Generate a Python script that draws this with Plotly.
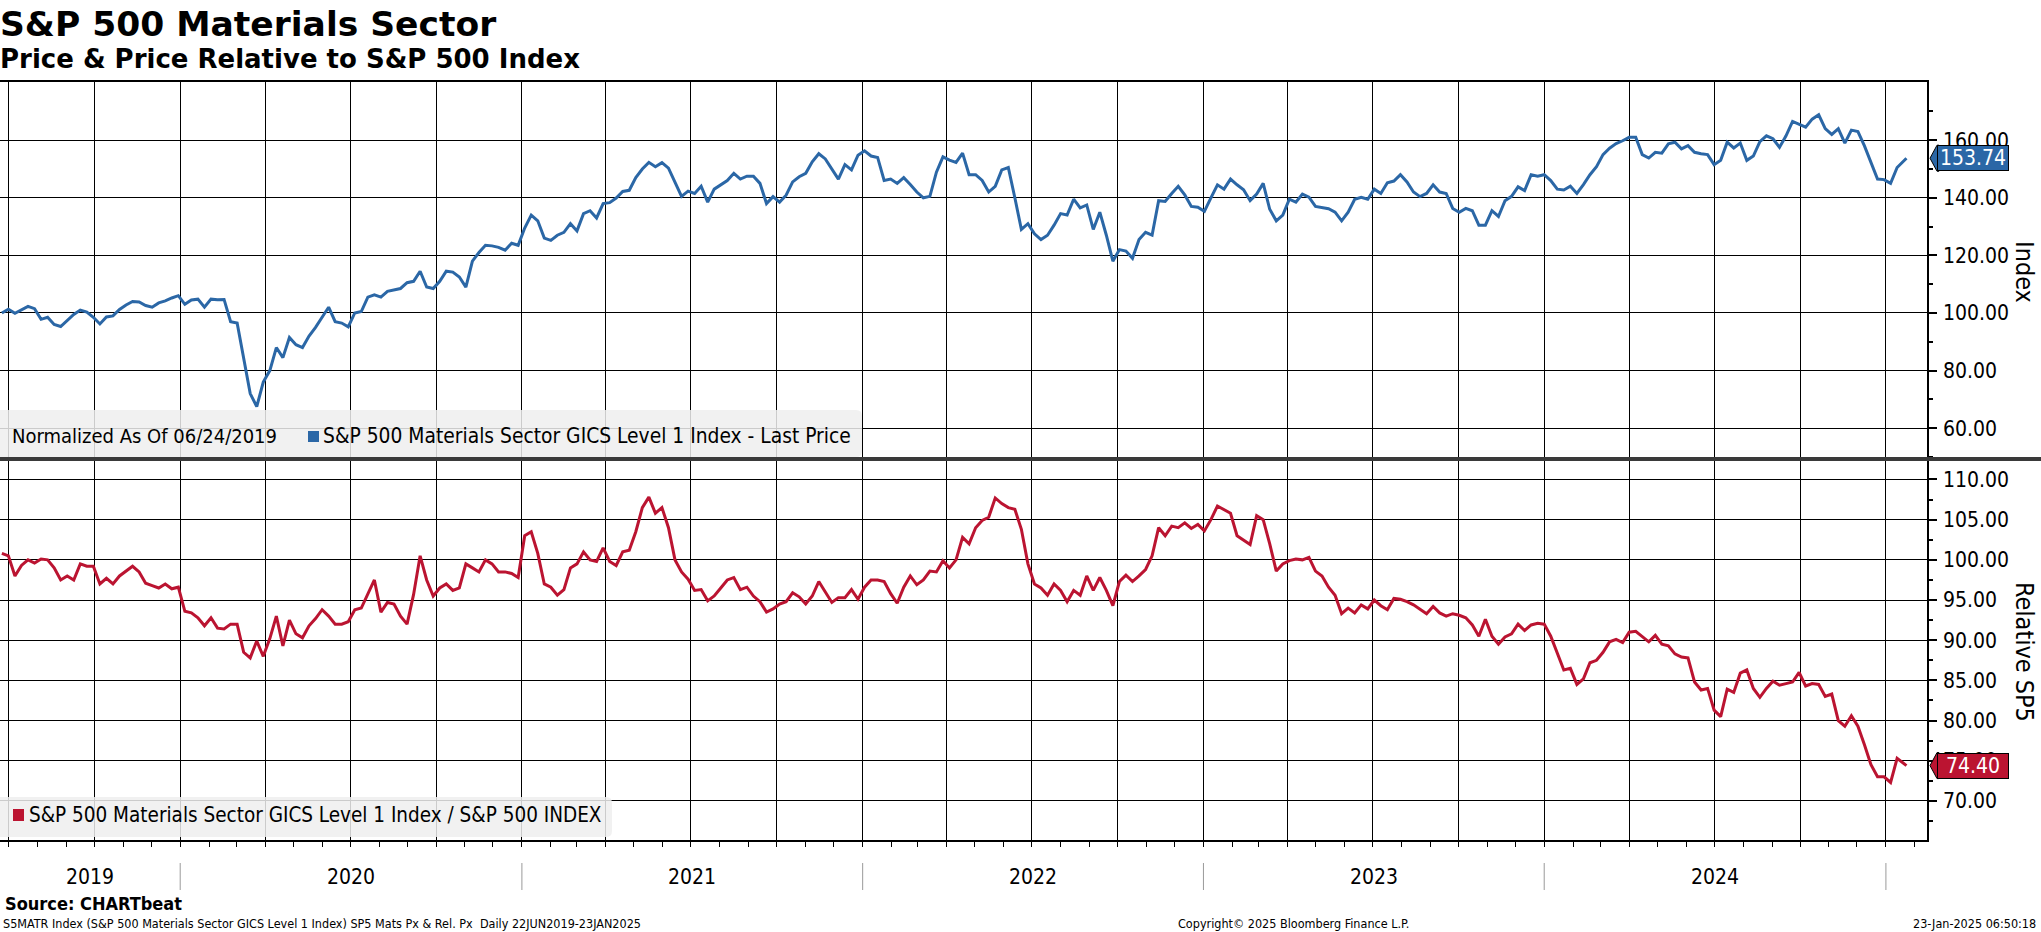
import pandas as pd
import plotly.graph_objects as go

# ---------------- data ----------------
start_date = "2019-06-24"   # weekly readings from this date
last_date = "2025-01-23"    # final reading

price = [
    100.0, 101.3, 99.9, 101.0, 102.3, 101.5, 97.8, 98.5, 96.0, 95.3,
    97.5, 99.5, 101.0, 100.3, 98.5, 96.2, 98.6, 99.0, 101.2, 102.8,
    104.0, 103.8, 102.6, 102.0, 103.5, 104.2, 105.2, 106.0, 103.0, 104.5,
    104.8, 102.0, 104.8, 104.6, 104.7, 97.0, 96.5, 84.0, 72.0, 67.5,
    76.0, 80.0, 88.0, 84.5, 91.5, 89.0, 88.0, 92.0, 95.0, 98.5,
    102.0, 97.0, 96.5, 95.2, 100.0, 100.5, 105.5, 106.3, 105.5, 107.5,
    108.0, 108.5, 110.5, 111.0, 114.5, 109.0, 108.5, 111.0, 114.5, 114.2,
    112.5, 109.0, 118.0, 121.0, 123.5, 123.3, 122.8, 121.8, 124.2, 123.5,
    129.5, 134.0, 132.0, 126.0, 125.2, 127.0, 128.0, 131.0, 128.5, 134.5,
    135.5, 133.0, 138.0, 138.3, 139.9, 142.2, 142.6, 147.0, 150.0, 152.3,
    150.8, 152.2, 150.3, 145.3, 140.5, 142.3, 141.5, 144.0, 138.5, 143.0,
    144.5, 146.0, 148.5, 146.5, 147.5, 147.5, 145.0, 138.0, 140.4, 138.5,
    140.9, 145.5, 147.3, 148.5, 152.5, 155.3, 153.5, 150.0, 146.5, 151.5,
    149.7, 154.8, 156.3, 154.5, 154.0, 146.0, 146.5, 145.0, 147.0, 144.6,
    142.0, 140.0, 140.5, 148.9, 154.2, 153.1, 152.3, 155.5, 148.0, 148.0,
    146.0, 142.0, 144.0, 149.7, 150.5, 140.0, 129.0, 131.0, 127.5, 125.5,
    127.0, 130.5, 134.5, 134.0, 139.5, 136.5, 137.5, 129.0, 135.0, 127.0,
    118.0, 122.0, 121.5, 119.0, 125.5, 128.0, 127.0, 139.0, 138.7, 141.5,
    144.0, 141.0, 137.0, 136.7, 135.3, 140.0, 144.5, 143.0, 146.5, 144.5,
    142.8, 139.0, 141.3, 145.0, 136.0, 132.0, 134.0, 139.5, 138.5, 141.3,
    140.2, 137.0, 136.5, 136.2, 135.0, 132.0, 135.0, 139.5, 140.2, 139.5,
    143.0, 141.5, 145.2, 145.8, 148.0, 145.5, 142.0, 140.4, 141.5, 144.5,
    142.0, 141.5, 136.3, 135.0, 136.3, 135.5, 130.5, 130.5, 135.5, 133.5,
    139.0, 140.5, 143.8, 142.5, 148.0, 147.5, 148.0, 146.0, 143.0, 142.7,
    144.0, 141.5, 144.6, 148.0, 150.8, 155.0, 157.2, 158.8, 159.8, 161.0,
    161.0, 155.0, 153.8, 155.8, 155.5, 158.7, 159.3, 157.0, 158.1, 155.8,
    155.3, 155.0, 151.5, 153.0, 159.3, 157.3, 159.0, 153.0, 154.5, 159.5,
    161.5, 160.5, 157.5, 161.5, 166.5, 165.5, 164.5, 167.3, 168.8, 164.0,
    162.0, 164.0, 159.0, 163.5, 163.0, 158.0, 152.5, 146.5, 146.3, 145.0,
    150.5, 153.74,
]

relative = [
    100.8, 100.5, 98.0, 99.3, 100.0, 99.6, 100.1, 100.0, 99.0, 97.5,
    98.0, 97.5, 99.5, 99.2, 99.2, 97.0, 97.7, 97.0, 98.0, 98.6,
    99.2, 98.5, 97.1, 96.8, 96.5, 97.0, 96.4, 96.6, 93.6, 93.4,
    92.8, 91.8, 92.8, 91.5, 91.4, 92.0, 92.0, 88.5, 87.8, 89.9,
    88.0, 90.2, 93.0, 89.3, 92.5, 90.8, 90.3, 91.8, 92.7, 93.8,
    93.0, 92.0, 92.0, 92.3, 93.8, 94.0, 95.7, 97.5, 93.5, 94.7,
    94.5, 93.0, 92.0, 95.7, 100.5, 97.5, 95.5, 96.5, 97.0, 96.2,
    96.5, 99.5, 99.0, 98.5, 100.0, 99.5, 98.5, 98.5, 98.3, 97.8,
    103.0, 103.5, 100.8, 97.0, 96.6, 95.6, 96.3, 99.0, 99.5, 101.0,
    100.0, 99.8, 101.5, 99.8, 99.3, 101.0, 101.2, 103.5, 106.5, 107.8,
    105.8, 106.5, 104.0, 100.0, 98.5, 97.6, 96.2, 96.3, 94.9, 95.5,
    96.5, 97.5, 97.8, 96.3, 96.6, 95.5, 94.8, 93.5, 93.9, 94.5,
    94.8, 95.9, 95.4, 94.5, 95.5, 97.3, 96.0, 94.7, 95.3, 95.3,
    96.3, 95.1, 96.6, 97.5, 97.5, 97.3, 95.8, 94.6, 96.6, 98.0,
    96.9, 97.5, 98.6, 98.5, 99.9, 99.0, 100.0, 102.8, 102.0, 104.0,
    104.9, 105.3, 107.7, 107.0, 106.5, 106.3, 103.8, 99.5, 97.0, 96.5,
    95.6, 97.0, 96.2, 94.8, 96.2, 95.6, 98.0, 96.2, 97.8, 96.2,
    94.3, 97.3, 98.1, 97.3, 98.0, 98.8, 100.5, 104.0, 103.0, 104.2,
    104.0, 104.6, 103.9, 104.4, 103.6, 105.0, 106.7, 106.3, 105.8, 103.0,
    102.4, 101.9, 105.5, 105.0, 102.0, 98.6, 99.5, 99.9, 100.1, 100.0,
    100.3, 98.6, 98.0, 96.6, 95.6, 93.3, 94.0, 93.4, 94.4, 93.9,
    95.0, 94.3, 93.8, 95.2, 95.1, 94.8, 94.4, 93.8, 93.3, 94.2,
    93.4, 93.0, 93.3, 93.1, 92.8, 91.9, 90.5, 92.6, 90.5, 89.5,
    90.4, 90.8, 92.0, 91.2, 91.9, 92.1, 92.0, 90.5, 88.3, 86.3,
    86.5, 84.5, 85.2, 87.2, 87.5, 88.5, 89.8, 90.1, 89.7, 91.0,
    91.1, 90.5, 89.8, 90.6, 89.5, 89.3, 88.3, 87.9, 87.8, 84.8,
    83.8, 84.0, 81.3, 80.5, 83.9, 83.5, 85.9, 86.3, 84.0, 82.9,
    84.0, 84.9, 84.4, 84.6, 84.8, 86.0, 84.3, 84.6, 84.5, 83.0,
    83.3, 80.0, 79.3, 80.6, 79.3, 77.0, 74.5, 73.0, 73.0, 72.3,
    75.3, 74.40,
]

price_ticks = [60, 80, 100, 120, 140, 160]
price_minor = [50, 70, 90, 110, 130, 150, 170]
rel_ticks = [70, 75, 80, 85, 90, 95, 100, 105, 110]
rel_minor = [67.5, 72.5, 77.5, 82.5, 87.5, 92.5, 97.5, 102.5, 107.5, 112.5]
year_labels = ["2019", "2020", "2021", "2022", "2023", "2024"]
year_bounds = ["2020-01-01", "2021-01-01", "2022-01-01", "2023-01-01",
               "2024-01-01", "2025-01-01"]

x_range = ["2019-06-22", "2025-02-14"]
price_range = [49.3, 180.2]
rel_range = [65.14, 112.55]

dates = list(pd.date_range(start_date, periods=len(price) - 1, freq="7D")) + [pd.Timestamp(last_date)]

# ---------------- styling ----------------
W, H = 2041, 932
PL, PR, PT, PB = 0, 1927, 82, 840       # plot area in px
PW, PH = PR - PL, PB - PT
SPLIT = 459                               # panel separator px

BLUE = "#2b67a6"
RED = "#bb1431"
FONT = "DejaVu Sans Condensed, Liberation Sans Narrow, DejaVu Sans, sans-serif"
TFONT = "DejaVu Sans, sans-serif"


def px(xp):
    return (xp - PL) / PW


def py(yp):
    return (PB - yp) / PH


def rounded_rect(x0p, x1p, y0p, y1p, r=6):
    """Rounded rectangle path in paper coords from pixel edges."""
    X0, X1 = px(x0p), px(x1p)
    Yt, Yb = py(y0p), py(y1p)
    rx, ry = r / PW, r / PH
    return (f"M {X0 + rx} {Yt} L {X1 - rx} {Yt} Q {X1} {Yt} {X1} {Yt - ry} "
            f"L {X1} {Yb + ry} Q {X1} {Yb} {X1 - rx} {Yb} "
            f"L {X0 + rx} {Yb} Q {X0} {Yb} {X0} {Yb + ry} "
            f"L {X0} {Yt - ry} Q {X0} {Yt} {X0 + rx} {Yt} Z")


split_paper = py(SPLIT)

fig = go.Figure()
fig.add_trace(go.Scatter(x=dates, y=price, mode="lines", xaxis="x2", yaxis="y2",
                         line=dict(color=BLUE, width=3), showlegend=False,
                         name="S&P 500 Materials Sector GICS Level 1 Index - Last Price"))
fig.add_trace(go.Scatter(x=dates, y=relative, mode="lines", xaxis="x", yaxis="y",
                         line=dict(color=RED, width=3), showlegend=False,
                         name="S&P 500 Materials Sector GICS Level 1 Index / S&P 500 INDEX"))

xcommon = dict(type="date", range=x_range, tickmode="linear", tick0="2019-07-01",
               dtick="M3", showgrid=True, gridcolor="black", gridwidth=1,
               zeroline=False, showticklabels=False, linecolor="black", linewidth=1.5)

ycommon = dict(side="right", showgrid=True, gridcolor="black", gridwidth=1,
               zeroline=False, showline=True, linecolor="black", linewidth=1.5,
               ticks="outside", ticklen=8, tickwidth=2, tickcolor="black",
               ticklabelstandoff=2,
               tickfont=dict(family=FONT, size=21, color="black"))

fig.update_layout(
    width=W, height=H,
    margin=dict(l=PL, r=W - PR, t=PT, b=H - PB),
    paper_bgcolor="white", plot_bgcolor="white",
    showlegend=False,
    xaxis=dict(**xcommon, anchor="y", showline=True, ticks="outside", ticklen=5,
               tickcolor="black",
               minor=dict(dtick="M1", tick0="2019-07-01", ticks="outside", ticklen=5,
                          tickcolor="black", showgrid=False)),
    xaxis2=dict(**xcommon, anchor="y2", matches="x", side="top", showline=True, ticks=""),
    yaxis=dict(**ycommon, domain=[0, split_paper], range=rel_range,
               tickmode="array", tickvals=rel_ticks,
               ticktext=[f"{v:.2f}" for v in rel_ticks],
               minor=dict(tickmode="array", tickvals=rel_minor, ticks="outside",
                          ticklen=4, tickcolor="black", showgrid=False)),
    yaxis2=dict(**ycommon, domain=[split_paper, 1], range=price_range,
                tickmode="array", tickvals=price_ticks,
                ticktext=[f"{v:.2f}" for v in price_ticks],
                minor=dict(tickmode="array", tickvals=price_minor, ticks="outside",
                           ticklen=4, tickcolor="black", showgrid=False)),
)

LEG_FILL = "rgba(238,238,238,0.85)"
shapes = []
# legend boxes (rounded)
shapes.append(dict(type="path", xref="paper", yref="paper",
                   path=rounded_rect(-8, 862, 410, 457), fillcolor=LEG_FILL,
                   line=dict(width=0), layer="above"))
shapes.append(dict(type="path", xref="paper", yref="paper",
                   path=rounded_rect(-8, 612, 797, 837), fillcolor=LEG_FILL,
                   line=dict(width=0), layer="above"))
# legend colour squares
shapes.append(dict(type="rect", xref="paper", yref="paper", x0=px(308), x1=px(319),
                   y0=py(442), y1=py(431), fillcolor=BLUE, line=dict(width=0), layer="above"))
shapes.append(dict(type="rect", xref="paper", yref="paper", x0=px(13), x1=px(24),
                   y0=py(821), y1=py(809), fillcolor=RED, line=dict(width=0), layer="above"))
# panel separator
shapes.append(dict(type="line", xref="paper", yref="paper", x0=0, x1=px(W),
                   y0=split_paper, y1=split_paper, line=dict(color="#3a3a3a", width=4),
                   layer="above"))
# year separators under the axis
for b in year_bounds:
    shapes.append(dict(type="line", xref="x", yref="paper", x0=b, x1=b,
                       y0=py(863), y1=py(890), line=dict(color="#9a9a9a", width=1)))
# last value tags: pointed tip (box body is the annotation below)
tag_path = "M 3 0 L 10 13 L 12 13 L 12 -13 L 10 -13 Z"
shapes.append(dict(type="path", xref="paper", yref="y2", xsizemode="pixel",
                   ysizemode="pixel", xanchor=1, yanchor=price[-1], path=tag_path,
                   fillcolor=BLUE, line=dict(color="black", width=1), layer="above"))
shapes.append(dict(type="path", xref="paper", yref="y", xsizemode="pixel",
                   ysizemode="pixel", xanchor=1, yanchor=relative[-1], path=tag_path,
                   fillcolor=RED, line=dict(color="black", width=1), layer="above"))
fig.update_layout(shapes=shapes)

ann = []


def text(s, xp, yp, size, bold=False, xanchor="left", color="black", family=FONT, **kw):
    ann.append(dict(text=f"<b>{s}</b>" if bold else s, xref="paper", yref="paper",
                    x=px(xp), y=py(yp), xanchor=xanchor, yanchor="middle",
                    showarrow=False, font=dict(family=family, size=size, color=color), **kw))


text("S&amp;P 500 Materials Sector", -2, 24, 34.5, bold=True, family=TFONT)
text("Price &amp; Price Relative to S&amp;P 500 Index", -2, 59, 26, bold=True, family=TFONT)
text("Normalized As Of 06/24/2019", 10, 436, 20)
text("S&amp;P 500 Materials Sector GICS Level 1 Index - Last Price", 321, 436, 20.8)
text("S&amp;P 500 Materials Sector GICS Level 1 Index / S&amp;P 500 INDEX", 27, 815, 20.5)
text("Source: CHARTbeat", 3, 903, 18, bold=True)
text("S5MATR Index (S&amp;P 500 Materials Sector GICS Level 1 Index) SP5 Mats Px &amp; Rel. Px  Daily 22JUN2019-23JAN2025",
     1, 923, 12.5)
text("Copyright© 2025 Bloomberg Finance L.P.", 1176, 923, 12.5)
text("23-Jan-2025 06:50:18", 2038, 923, 12.5, xanchor="right")
text("Index", 2025, 272, 25, xanchor="center", textangle=90)
text("Relative SP5", 2025, 652, 25, xanchor="center", textangle=90)

# last value labels (boxes drawn over the tick labels, as in the reference)
for val, yref, col in [(price[-1], "y2", BLUE), (relative[-1], "y", RED)]:
    ann.append(dict(text=f"{val:.2f}", xref="paper", yref=yref, x=px(1937), y=val,
                    xanchor="left", yanchor="middle", showarrow=False,
                    width=70, height=24, borderpad=0, borderwidth=1,
                    bordercolor="black", bgcolor=col, align="center",
                    font=dict(family=FONT, size=21, color="white")))

# year labels centred in each visible year span
lo, hi = pd.Timestamp(x_range[0]), pd.Timestamp(x_range[1])
for lab in year_labels:
    a = max(pd.Timestamp(f"{lab}-01-01"), lo)
    b = min(pd.Timestamp(f"{int(lab) + 1}-01-01"), hi)
    mid = a + (b - a) / 2
    ann.append(dict(text=lab, xref="x", yref="paper", x=mid, y=py(877),
                    xanchor="center", yanchor="middle", showarrow=False,
                    font=dict(family=FONT, size=21, color="black")))

fig.update_layout(annotations=ann)
fig.write_html("out.html", config={"displayModeBar": False},
               post_script="document.body.style.margin='0px';document.body.style.overflow='hidden';")
